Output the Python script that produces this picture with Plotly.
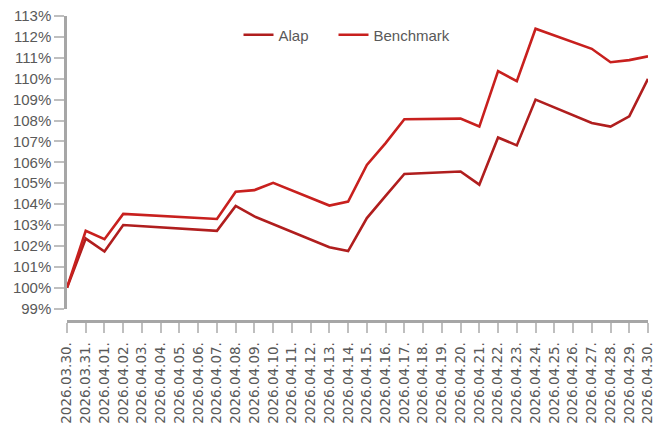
import plotly.graph_objects as go

# Calendar days shown on the category axis
all_dates = [
    "2026.03.30.", "2026.03.31.", "2026.04.01.", "2026.04.02.", "2026.04.03.",
    "2026.04.04.", "2026.04.05.", "2026.04.06.", "2026.04.07.", "2026.04.08.",
    "2026.04.09.", "2026.04.10.", "2026.04.11.", "2026.04.12.", "2026.04.13.",
    "2026.04.14.", "2026.04.15.", "2026.04.16.", "2026.04.17.", "2026.04.18.",
    "2026.04.19.", "2026.04.20.", "2026.04.21.", "2026.04.22.", "2026.04.23.",
    "2026.04.24.", "2026.04.25.", "2026.04.26.", "2026.04.27.", "2026.04.28.",
    "2026.04.29.", "2026.04.30.",
]

# Trading days with a published value
trading_dates = [
    "2026.03.30.", "2026.03.31.", "2026.04.01.", "2026.04.02.", "2026.04.07.",
    "2026.04.08.", "2026.04.09.", "2026.04.10.", "2026.04.13.", "2026.04.14.",
    "2026.04.15.", "2026.04.16.", "2026.04.17.", "2026.04.20.", "2026.04.21.",
    "2026.04.22.", "2026.04.23.", "2026.04.24.", "2026.04.27.", "2026.04.28.",
    "2026.04.29.", "2026.04.30.",
]

# Cumulative performance, percent of starting value
alap = [
    100.00, 102.35, 101.73, 103.00, 102.72,
    103.91, 103.41, 103.04, 101.94, 101.75,
    103.33, 104.39, 105.44, 105.56, 104.93,
    107.19, 106.81, 109.00, 107.88, 107.71,
    108.20, 109.99,
]

benchmark = [
    100.00, 102.72, 102.32, 103.53, 103.29,
    104.59, 104.67, 105.02, 103.93, 104.12,
    105.87, 106.92, 108.06, 108.09, 107.71,
    110.36, 109.88, 112.39, 111.43, 110.79,
    110.89, 111.07,
]

y_ticks = list(range(99, 114))

W, H = 656, 426
M_L, M_R, M_T, M_B = 67, 8, 16, 105
plot_w = W - M_L - M_R
plot_h = H - M_T - M_B
y_bottom_gap = 12.4  # y axis ends above the detached x axis

text_grey = "#595959"
axis_grey = "#a6a6a6"
tick_grey = "#bfbfbf"

fig = go.Figure()
fig.add_trace(go.Scatter(
    x=trading_dates, y=alap, name="Alap", mode="lines",
    line=dict(color="#B01E1E", width=2.6), legend="legend",
))
fig.add_trace(go.Scatter(
    x=trading_dates, y=benchmark, name="Benchmark", mode="lines",
    line=dict(color="#C8201E", width=2.6), legend="legend2",
))

legend_y = (H - M_B - 35) / plot_h
legend_common = dict(
    orientation="h", xanchor="left", y=legend_y, yanchor="middle",
    font=dict(size=15, color=text_grey),
    bgcolor="rgba(0,0,0,0)", borderwidth=0, itemwidth=30,
)

fig.update_layout(
    width=W, height=H,
    margin=dict(l=M_L, r=M_R, t=M_T, b=M_B, pad=0, autoexpand=False),
    paper_bgcolor="white", plot_bgcolor="white",
    font=dict(family="Liberation Sans, Arial, sans-serif", color=text_grey),
    showlegend=True,
    legend=dict(x=(238.5 - M_L) / plot_w, **legend_common),
    legend2=dict(x=(333.5 - M_L) / plot_w, **legend_common),
    xaxis=dict(
        type="category",
        categoryorder="array", categoryarray=all_dates,
        tickmode="array", tickvals=all_dates, ticktext=all_dates,
        range=[0, len(all_dates) - 1],
        anchor="free", position=0, automargin=False,
        showline=True, linecolor=axis_grey, linewidth=2.5,
        ticks="outside", ticklen=10, tickwidth=2, tickcolor=tick_grey,
        tickangle=-90, ticklabelstandoff=4,
        tickfont=dict(family="DejaVu Sans, sans-serif", size=13.5, color=text_grey),
        showgrid=False, zeroline=False,
    ),
    yaxis=dict(
        domain=[y_bottom_gap / plot_h, 1],
        range=[99, 113], automargin=False,
        tickmode="array", tickvals=y_ticks,
        ticktext=[f"{v}%" for v in y_ticks],
        showline=True, linecolor=axis_grey, linewidth=2.5,
        ticks="outside", ticklen=10, tickwidth=2, tickcolor=tick_grey,
        tickfont=dict(size=15, color=text_grey),
        showgrid=False, zeroline=False,
    ),
)

fig.write_html("out.html")
